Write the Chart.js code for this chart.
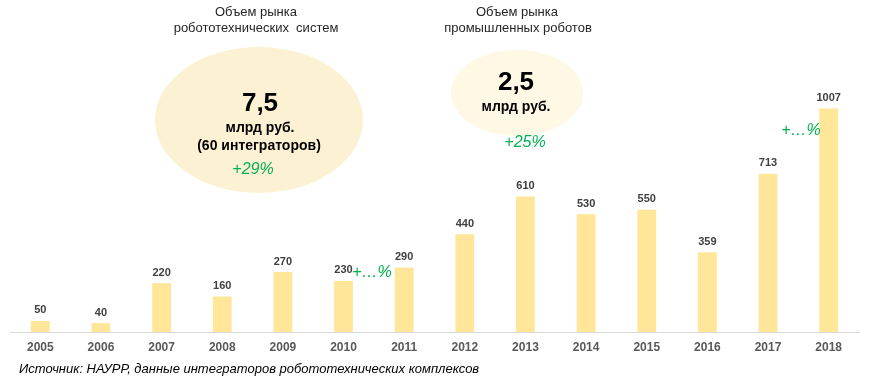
<!DOCTYPE html>
<html>
<head>
<meta charset="utf-8">
<script src="https://cdn.jsdelivr.net/npm/chart.js@4/dist/chart.umd.min.js"></script>
<style>
  html, body { margin: 0; padding: 0; background: #fff; }
  #wrap { width: 871px; height: 386px; position: relative; }
</style>
</head>
<body>
<div id="wrap"><canvas id="grafico"></canvas></div>
<script>
const anos = ['2005', '2006', '2007', '2008', '2009', '2010', '2011', '2012', '2013', '2014', '2015', '2016', '2017', '2018'];
const valores = [50, 40, 220, 160, 270, 230, 290, 440, 610, 530, 550, 359, 713, 1007];
const fonte = 'Источник: НАУРР, данные интеграторов робототехнических комплексов';

const FONT = '"Liberation Sans", Arial, sans-serif';

// ellipses and text annotations
const anotacoes = {
    id: 'anotacoes',
    beforeDatasetsDraw(chart) {
        const c = chart.ctx;
        c.save();
        c.fillStyle = '#FCF2D3';
        c.beginPath();
        c.ellipse(259, 120, 104, 73, 0, 0, Math.PI * 2);
        c.fill();
        c.fillStyle = '#FEF8E5';
        c.beginPath();
        c.ellipse(517, 93, 66, 43, 0, 0, Math.PI * 2);
        c.fill();
        c.restore();
    },
    afterDraw(chart) {
        const c = chart.ctx;
        c.save();
        c.textAlign = 'center';
        c.textBaseline = 'middle';

        c.fillStyle = '#262626';
        c.font = '13px ' + FONT;
        c.fillText('Объем рынка', 256, 12);
        c.fillText('робототехнических  систем', 256, 28);
        c.fillText('Объем рынка', 517, 12);
        c.fillText('промышленных роботов', 518, 28);

        c.fillStyle = '#000';
        c.font = 'bold 26px ' + FONT;
        c.fillText('7,5', 260, 104);
        c.fillText('2,5', 516, 83);
        c.font = 'bold 14px ' + FONT;
        c.fillText('млрд руб.', 260, 128);
        c.fillText('(60 интеграторов)', 259, 146);
        c.fillText('млрд руб.', 516, 107);

        c.fillStyle = '#00B050';
        c.font = 'italic 16px ' + FONT;
        c.fillText('+29%', 253, 170);
        c.fillText('+25%', 525, 143);
        c.fillText('+…%', 372, 273);
        c.fillText('+…%', 801, 131);

        c.fillStyle = '#000';
        c.textAlign = 'left';
        c.font = 'italic 13px ' + FONT;
        c.fillText(fonte, 19, 369);
        c.restore();
    },
    afterDatasetsDraw(chart) {
        const c = chart.ctx;
        const meta = chart.getDatasetMeta(0);
        c.save();
        c.fillStyle = '#404040';
        c.font = 'bold 11px ' + FONT;
        c.textAlign = 'center';
        c.textBaseline = 'bottom';
        meta.data.forEach((bar, i) => {
            c.fillText(valores[i], bar.x, bar.y - 5);
        });
        c.restore();
    }
};

new Chart(document.getElementById('grafico').getContext('2d'), {
    type: 'bar',
    data: {
        labels: anos,
        datasets: [{
            data: valores,
            backgroundColor: '#FFE699',
            barPercentage: 0.31,
            categoryPercentage: 1
        }]
    },
    options: {
        responsive: true,
        maintainAspectRatio: false,
        animation: false,
        layout: { padding: { left: 10, right: 12, top: 10, bottom: 30 } },
        plugins: {
            legend: { display: false },
            tooltip: { enabled: false }
        },
        scales: {
            x: {
                grid: { display: false },
                border: { display: true, color: '#D9D9D9', width: 1 },
                ticks: {
                    color: '#595959',
                    font: { family: FONT, size: 12, weight: 'bold' },
                    padding: 0,
                    maxRotation: 0
                },
                afterFit(s) { s.height = 24; }
            },
            y: {
                display: false,
                min: 0,
                max: 1450
            }
        }
    },
    plugins: [anotacoes]
});
</script>
</body>
</html>
